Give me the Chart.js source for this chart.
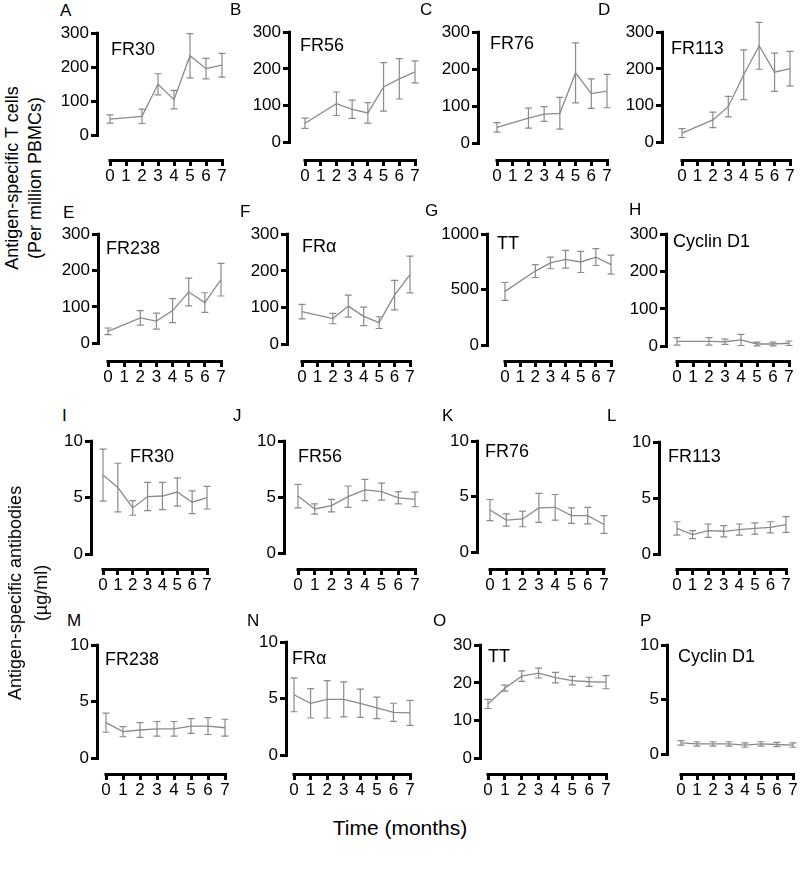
<!DOCTYPE html>
<html>
<head>
<meta charset="utf-8">
<script src="https://cdn.jsdelivr.net/npm/chart.js@4.4.0/dist/chart.umd.min.js"></script>
<style>
  body { margin: 0; background: #fff; font-family: "Liberation Sans", Arial, sans-serif; }
  #fig { position: relative; width: 800px; height: 869px; overflow: hidden; }
  #fig canvas { position: absolute; }
  .txt { position: absolute; color: #000; white-space: nowrap; font-size: 17px; line-height: 17px; }
  .name { position: absolute; color: #000; white-space: nowrap; font-size: 18px; line-height: 18px; }
  .ytitle { position: absolute; color: #000; white-space: nowrap; font-size: 18px; text-align: center;
            transform: translate(-50%, -50%) rotate(-90deg); }
</style>
</head>
<body>
<div id="fig"></div>
<script>
const months = [0, 1, 2, 3, 4, 5, 6, 7];

// T cells (per million PBMCs), no sample at month 1
const tFR30 = [48, null, 56, 150, 105, 234, 196, 206];
const tFR30Sem = [12, null, 21, 31, 27, 65, 30, 35];
const tFR56 = [52, null, 105, 90, 80, 151, 173, 192];
const tFR56Sem = [14, null, 32, 25, 28, 66, 55, 30];
const tFR76 = [43, null, 68, 79, 81, 190, 134, 141];
const tFR76Sem = [13, null, 27, 20, 43, 81, 40, 45];
const tFR113 = [25, null, 61, 97, 184, 263, 191, 201];
const tFR113Sem = [12, null, 21, 28, 68, 64, 52, 47];
const tFR238 = [33, null, 70, 61, 90, 141, 112, 175];
const tFR238Sem = [9, null, 20, 22, 33, 38, 27, 45];
const tFRa = [89, null, 70, 104, 76, 59, 134, 190];
const tFRaSem = [20, null, 14, 30, 25, 16, 40, 50];
const tTT = [485, null, 668, 741, 774, 750, 794, 726];
const tTTSem = [80, null, 58, 52, 80, 95, 76, 85];
const tCyc = [13, null, 13, 12, 17, 6, 6, 8];
const tCycSem = [10, null, 10, 7, 15, 5, 5, 6];

// antibodies (ug/ml)
const aFR30 = [7.0, 5.9, 4.1, 5.1, 5.15, 5.5, 4.6, 5.0];
const aFR30Sem = [2.3, 2.15, 0.65, 1.25, 1.2, 1.25, 1.0, 1.0];
const aFR56 = [5.1, 3.95, 4.25, 5.05, 5.65, 5.5, 4.95, 4.8];
const aFR56Sem = [1.05, 0.45, 0.55, 0.95, 0.95, 0.75, 0.55, 0.65];
const aFR76 = [3.8, 2.9, 3.0, 4.0, 4.05, 3.3, 3.3, 2.5];
const aFR76Sem = [0.95, 0.55, 0.7, 1.3, 1.15, 0.7, 0.75, 0.8];
const aFR113 = [2.3, 1.75, 2.1, 2.05, 2.2, 2.3, 2.4, 2.65];
const aFR113Sem = [0.6, 0.35, 0.6, 0.5, 0.5, 0.5, 0.5, 0.7];
const aFR238 = [3.15, 2.35, 2.5, 2.6, 2.6, 2.85, 2.85, 2.7];
const aFR238Sem = [0.85, 0.45, 0.65, 0.65, 0.65, 0.65, 0.75, 0.75];
const aFRa = [5.35, 4.6, 4.95, 4.95, 4.6, 4.2, 3.8, 3.75];
const aFRaSem = [1.5, 1.3, 1.65, 1.55, 1.25, 0.95, 0.8, 1.1];
const aTT = [14.4, 18.6, 21.8, 22.6, 21.4, 20.6, 20.3, 20.2];
const aTTSem = [1.2, 0.8, 1.4, 1.3, 1.4, 1.15, 1.2, 1.75];
const aCyc = [1.05, 0.95, 0.95, 0.95, 0.85, 0.95, 0.9, 0.85];
const aCycSem = [0.2, 0.2, 0.2, 0.2, 0.2, 0.2, 0.2, 0.2];

const ticks300 = [0, 100, 200, 300];
const ticks1000 = [0, 500, 1000];
const ticks10 = [0, 5, 10];
const ticks30 = [0, 10, 20, 30];

const panels = [
  { letter: "A", name: "FR30", mean: tFR30, sem: tFR30Sem, yTicks: ticks300 },
  { letter: "B", name: "FR56", mean: tFR56, sem: tFR56Sem, yTicks: ticks300 },
  { letter: "C", name: "FR76", mean: tFR76, sem: tFR76Sem, yTicks: ticks300 },
  { letter: "D", name: "FR113", mean: tFR113, sem: tFR113Sem, yTicks: ticks300 },
  { letter: "E", name: "FR238", mean: tFR238, sem: tFR238Sem, yTicks: ticks300 },
  { letter: "F", name: "FR\u03B1", mean: tFRa, sem: tFRaSem, yTicks: ticks300 },
  { letter: "G", name: "TT", mean: tTT, sem: tTTSem, yTicks: ticks1000 },
  { letter: "H", name: "Cyclin D1", mean: tCyc, sem: tCycSem, yTicks: ticks300 },
  { letter: "I", name: "FR30", mean: aFR30, sem: aFR30Sem, yTicks: ticks10 },
  { letter: "J", name: "FR56", mean: aFR56, sem: aFR56Sem, yTicks: ticks10 },
  { letter: "K", name: "FR76", mean: aFR76, sem: aFR76Sem, yTicks: ticks10 },
  { letter: "L", name: "FR113", mean: aFR113, sem: aFR113Sem, yTicks: ticks10 },
  { letter: "M", name: "FR238", mean: aFR238, sem: aFR238Sem, yTicks: ticks10 },
  { letter: "N", name: "FR\u03B1", mean: aFRa, sem: aFRaSem, yTicks: ticks10 },
  { letter: "O", name: "TT", mean: aTT, sem: aTTSem, yTicks: ticks30 },
  { letter: "P", name: "Cyclin D1", mean: aCyc, sem: aCycSem, yTicks: ticks10 },
];

// page layout per panel:
// y-axis x, x of month 0, x of month 7, y of top tick, y of 0, x-axis y, letter x/y, name x/y
const layout = [
  [97, 110, 222, 31, 135, 159, 60, 2, 111, 40],
  [289, 305, 415, 30, 142, 159, 230, 1, 300, 36],
  [478, 497, 607, 30, 143, 159, 420, 1, 490, 34],
  [662, 682, 790, 30, 142, 159, 598, 1, 671, 39],
  [98, 108, 221, 232, 343, 360, 63, 204, 106, 239],
  [287, 302, 410, 232, 344, 360, 240, 203, 302, 237],
  [487, 505, 611, 232, 345, 360, 425, 202, 497, 234],
  [666, 677, 789, 232, 346, 360, 629, 201, 673, 232],
  [91, 103, 207, 439, 554, 568, 62, 407, 130, 447],
  [284, 298, 415, 439, 553, 568, 233, 407, 298, 447],
  [477, 490, 604, 439, 552, 568, 442, 407, 485, 442],
  [659, 677, 786, 440, 554, 568, 607, 407, 668, 447],
  [97, 106, 225, 643, 758, 773, 67, 612, 105, 650],
  [286, 294, 410, 640, 755, 773, 247, 612, 292, 649],
  [480, 488, 606, 643, 758, 773, 433, 612, 488, 647],
  [667, 681, 793, 643, 754, 773, 640, 612, 678, 647],
];

const FONT = '"Liberation Sans", Arial, sans-serif';
const GREY = "#8a8a8a";
const Y_W = 52, X_H = 32, PAD_T = 10;

const errorBars = {
  id: "errorBars",
  afterDatasetsDraw(chart) {
    const { ctx, scales: { x, y } } = chart;
    const ds = chart.data.datasets[0];
    ctx.save();
    ctx.strokeStyle = GREY;
    ctx.lineWidth = 1.2;
    ds.data.forEach((p, i) => {
      if (p.y == null) return;
      const e = ds.sem[i];
      const px = x.getPixelForValue(p.x);
      const top = y.getPixelForValue(p.y + e);
      const bot = y.getPixelForValue(Math.max(p.y - e, 0));
      ctx.beginPath();
      ctx.moveTo(px, top); ctx.lineTo(px, bot);
      ctx.moveTo(px - 3.5, top); ctx.lineTo(px + 3.5, top);
      ctx.moveTo(px - 3.5, bot); ctx.lineTo(px + 3.5, bot);
      ctx.stroke();
    });
    ctx.restore();
  }
};

// Prism style axes: y line from 0 to max, x line offset below, from month 0 to 7
const prismAxes = {
  id: "prismAxes",
  afterDraw(chart) {
    const { ctx, chartArea: a, scales: { x, y } } = chart;
    ctx.save();
    ctx.strokeStyle = "#000";
    ctx.lineWidth = 3;
    ctx.beginPath();
    ctx.moveTo(a.left - 1.5, y.getPixelForValue(y.max) - 1.5);
    ctx.lineTo(a.left - 1.5, y.getPixelForValue(0) + 1.5);
    ctx.moveTo(x.getPixelForValue(months[0]) - 1.5, a.bottom + 1.5);
    ctx.lineTo(x.getPixelForValue(months[months.length - 1]) + 1.5, a.bottom + 1.5);
    ctx.stroke();
    ctx.restore();
  }
};

const fig = document.getElementById("fig");

function addText(cls, html, x, y) {
  const d = document.createElement("div");
  d.className = cls;
  d.innerHTML = html;
  d.style.left = x + "px";
  d.style.top = y + "px";
  fig.appendChild(d);
  return d;
}

panels.forEach((p, k) => {
  const [axisX, x0, x7, topY, zeroY, axisY, lx, ly, nx, ny] = layout[k];
  const yMax = p.yTicks[p.yTicks.length - 1];
  const cl = Math.round(axisX + 1.5 - Y_W);
  const aLeft = cl + Y_W;
  const W = x7 + 8 - aLeft;
  const unit = (x7 - x0) / 7;
  const xMin = -(x0 - aLeft) / unit;
  const xMax = xMin + W / unit;
  const yMin = -yMax * (axisY - zeroY) / (zeroY - topY);

  const cv = document.createElement("canvas");
  cv.width = Y_W + W;
  cv.height = axisY - topY + PAD_T + X_H;
  cv.style.left = cl + "px";
  cv.style.top = (topY - PAD_T) + "px";
  fig.appendChild(cv);

  new Chart(cv, {
    type: "line",
    data: {
      datasets: [{
        data: months.map((m, i) => ({ x: m, y: p.mean[i] })),
        sem: p.sem,
        borderColor: GREY,
        borderWidth: 1.3,
        pointRadius: 0,
        spanGaps: true,
        tension: 0,
        clip: false
      }]
    },
    options: {
      responsive: false,
      animation: false,
      devicePixelRatio: 1,
      layout: { autoPadding: false, padding: { top: PAD_T, right: 0, left: 0, bottom: 0 } },
      plugins: { legend: { display: false }, tooltip: { enabled: false } },
      scales: {
        x: {
          type: "linear", min: xMin, max: xMax,
          afterBuildTicks: s => { s.ticks = months.map(v => ({ value: v })); },
          afterFit: s => { s.height = X_H; },
          grid: { drawOnChartArea: false, tickLength: 7, lineWidth: 3, color: "#000" },
          border: { display: false },
          ticks: { color: "#000", font: { size: 17, family: FONT }, padding: 0, maxRotation: 0, autoSkip: false, callback: v => String(v) }
        },
        y: {
          type: "linear", min: yMin, max: yMax,
          afterBuildTicks: s => { s.ticks = p.yTicks.map(v => ({ value: v })); },
          afterFit: s => { s.width = Y_W; },
          grid: { drawOnChartArea: false, tickLength: 8, lineWidth: 3, color: "#000" },
          border: { display: false },
          ticks: { color: "#000", font: { size: 17, family: FONT }, padding: 2, callback: v => String(v) }
        }
      }
    },
    plugins: [errorBars, prismAxes]
  });

  addText("txt", p.letter, lx, ly);
  addText("name", p.name, nx, ny);
});

const t1 = addText("ytitle", "Antigen-specific T cells<br>(Per million PBMCs)", 24, 178);
t1.style.lineHeight = "23px";
const t2 = addText("ytitle", "Antigen-specific antibodies<br>(\u00B5g/ml)", 28, 593);
t2.style.lineHeight = "26px";
const tx = addText("txt", "Time (months)", 400, 817);
tx.style.fontSize = "21px";
tx.style.lineHeight = "21px";
tx.style.transform = "translateX(-50%)";
</script>
</body>
</html>
